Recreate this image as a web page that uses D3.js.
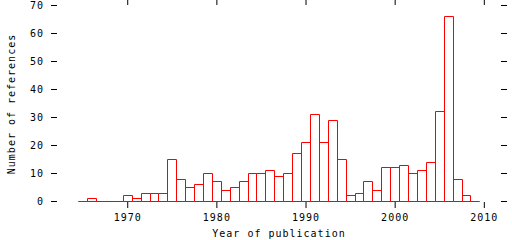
<!DOCTYPE html>
<html>
<head>
<meta charset="utf-8">
<script src="https://cdn.jsdelivr.net/npm/d3@7"></script>
<style>
  body { margin: 0; background: #fff; }
  text { font-family: "DejaVu Sans Mono", monospace; font-size: 10px; letter-spacing: 1px; fill: #000; }
</style>
</head>
<body>
<svg id="chart" width="512" height="240"></svg>
<script>
const years = d3.range(1965, 2010)
const counts = [
    0, 1, 0, 0, 0, 2, 1, 3, 3, 3,
    15, 8, 5, 6, 10, 7, 4, 5, 7, 10,
    10, 11, 9, 10, 17, 21, 31, 21, 29, 15,
    2, 3, 7, 4, 12, 12, 13, 10, 11, 14,
    32, 66, 8, 2, 0,
]
const xTicks = [1970, 1980, 1990, 2000, 2010]
const yTicks = [0, 10, 20, 30, 40, 50, 60, 70]

const svg = d3.select("#chart")

// plot frame (gnuplot style: ticks on all four sides, no border)
const plotLeft = 51, plotRight = 507, plotTop = -1, plotBottom = 208

const x = d3.scaleLinear().domain([1961.45, 2012.6]).range([plotLeft, plotRight])
const y = d3.scaleLinear().domain([0, 70]).range([201, 5])

const data = years.map((yr, i) => ({ year: yr, value: counts[i] }))

svg.append("g")
    .attr("transform", `translate(${plotLeft},0)`)
    .call(d3.axisLeft(y).tickValues(yTicks).tickSize(-6).tickPadding(7))
    .call((g) => g.select(".domain").remove())

svg.append("g")
    .attr("transform", `translate(${plotRight},0)`)
    .call(d3.axisRight(y).tickValues(yTicks).tickSize(-6).tickFormat(""))
    .call((g) => g.select(".domain").remove())

svg.append("g")
    .attr("transform", `translate(0,${plotBottom})`)
    .call(d3.axisBottom(x).tickValues(xTicks).tickSize(-6).tickPadding(6).tickFormat(d3.format("d")))
    .call((g) => g.select(".domain").remove())

svg.append("g")
    .attr("transform", `translate(0,${plotTop})`)
    .call(d3.axisTop(x).tickValues(xTicks).tickSize(-6).tickFormat(""))
    .call((g) => g.select(".domain").remove())

svg.selectAll(".tick text").attr("font-family", null).attr("font-size", null)
svg.selectAll(".tick line").attr("stroke", "#000")

// bars: outlined boxes, one per year
const half = 0.5
svg.append("g")
    .selectAll("path")
    .data(data)
    .join("path")
    .attr("fill", "none")
    .attr("stroke", "#ff0000")
    .attr("stroke-width", 1)
    .attr("d", (d) => {
        const x0 = Math.round(x(d.year - half)) + 0.5
        const x1 = Math.round(x(d.year + half)) + 0.5
        const y0 = Math.round(y(0)) + 0.5
        const y1 = Math.round(y(d.value)) + 0.5
        return `M${x0},${y0}V${y1}H${x1}V${y0}Z`
    })

svg.append("text")
    .attr("x", (plotLeft + plotRight) / 2)
    .attr("y", 237)
    .attr("text-anchor", "middle")
    .text("Year of publication")

svg.append("text")
    .attr("transform", "translate(15,104) rotate(-90)")
    .attr("text-anchor", "middle")
    .text("Number of references")
</script>
</body>
</html>
